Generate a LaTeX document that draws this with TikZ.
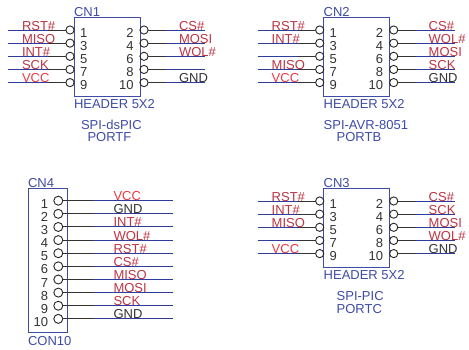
\documentclass[tikz,border=0pt]{standalone}
\usepackage{fontspec}
\setmainfont{Liberation Sans}
\definecolor{wireblue}{HTML}{2E3C9C}
\definecolor{capblue}{HTML}{3F4CA6}
\definecolor{sigred}{HTML}{BE3443}
\definecolor{vccred}{HTML}{F03A42}
\definecolor{gnddark}{HTML}{333333}
\tikzset{
  txt/.style={inner sep=0pt,outer sep=0pt,anchor=base west,font=\fontsize{13}{15}\selectfont},
  numl/.style={txt,text=gnddark},
  numr/.style={txt,anchor=base east,text=gnddark},
  captxt/.style={txt,text=capblue},
  sr/.style={txt,text=sigred},
  sv/.style={txt,text=vccred},
  sg/.style={txt,text=gnddark},
  hbox/.style={draw=capblue,line width=1pt,fill=white,inner sep=0pt,outer sep=0pt,anchor=north west},
  pinc/.style={circle,draw=black!85,line width=0.9pt,minimum size=8.2pt,inner sep=0pt,outer sep=0pt},
  wk/.style={draw=gnddark,line width=1pt},
  wb/.style={draw=wireblue,line width=1pt}
}
\newcommand{\hdrleft}[2]{%
  \foreach \pn/\pr/\pt/\ps in {#2} {
    \node[pinc] (#1p\pn) at (-4,{13+13.15*\pr}) {};
    \coordinate (#1m\pn) at (-26,{13+13.15*\pr});
    \coordinate (#1e\pn) at (-66,{13+13.15*\pr});
    \draw[wb] (#1e\pn) -- (#1m\pn);
    \draw[wk] (#1m\pn) -- (#1p\pn.west);
    \node[numl] (#1n\pn) at (6,{20+13.15*\pr}) {\pn};
    \ifx\pt\empty\else
      \node[\ps] (#1l\pn) at (-52,{13+13.15*\pr}) {\pt};
    \fi
  }}
\newcommand{\hdrright}[2]{%
  \foreach \pn/\pr/\pt/\ps in {#2} {
    \node[pinc] (#1p\pn) at (70,{13+13.15*\pr}) {};
    \coordinate (#1m\pn) at (92,{13+13.15*\pr});
    \coordinate (#1e\pn) at (131,{13+13.15*\pr});
    \draw[wb] (#1m\pn) -- (#1e\pn);
    \draw[wk] (#1p\pn.east) -- (#1m\pn);
    \node[numr] (#1n\pn) at (59.5,{20+13.15*\pr}) {\pn};
    \ifx\pt\empty\else
      \node[\ps] (#1l\pn) at (105,{13+13.15*\pr}) {\pt};
    \fi
  }}
\newcommand{\hdrbox}[2]{%
  \node[hbox,minimum width=66pt,minimum height=79pt] (#1box) at (0,0) {};
  \node[captxt] (#1name) at (0,-0.3) {#2};
  \node[captxt] (#1part) at (0,91.7) {HEADER 5X2};}
\begin{document}
\begin{tikzpicture}[x=1pt,y=-1pt]
\useasboundingbox (0,0) rectangle (469,349);
\fill[white] (0,0) rectangle (469,349);
% CN1
\begin{scope}[shift={(74,17)}]
\hdrbox{a}{CN1}
\hdrleft{a}{1/0/RST\#/sr,3/1/MISO/sr,5/2/INT\#/sr,7/3/SCK/sr,9/4/VCC/sv}
\hdrright{a}{2/0/CS\#/sr,4/1/MOSI/sr,6/2/WOL\#/sr,8/3//sr,10/4/GND/sg}
\node[captxt] (acap1) at (7,112) {SPI-dsPIC};
\node[captxt] (acap2) at (13.5,124.7) {PORTF};
\end{scope}
% CN2
\begin{scope}[shift={(323.7,17)}]
\hdrbox{b}{CN2}
\hdrleft{b}{1/0/RST\#/sr,3/1/INT\#/sr,5/2//sr,7/3/MISO/sr,9/4/VCC/sv}
\hdrright{b}{2/0/CS\#/sr,4/1/WOL\#/sr,6/2/MOSI/sr,8/3/SCK/sr,10/4/GND/sg}
\node[captxt] (bcap1) at (0,112) {SPI-AVR-8051};
\node[captxt] (bcap2) at (13,124.7) {PORTB};
\end{scope}
% CN3
\begin{scope}[shift={(323.7,188)}]
\hdrbox{c}{CN3}
\hdrleft{c}{1/0/RST\#/sr,3/1/INT\#/sr,5/2/MISO/sr,7/3//sr,9/4/VCC/sv}
\hdrright{c}{2/0/CS\#/sr,4/1/SCK/sr,6/2/MOSI/sr,8/3/WOL\#/sr,10/4/GND/sg}
\node[captxt] (ccap1) at (13,112) {SPI-PIC};
\node[captxt] (ccap2) at (13,125) {PORTC};
\end{scope}
% CN4
\begin{scope}[shift={(28,188)}]
\node[hbox,minimum width=39.5pt,minimum height=144.5pt] (dbox) at (0,0) {};
\node[captxt] (dname) at (0,-0.8) {CN4};
\node[captxt] (dpart) at (0,157.7) {CON10};
\foreach \pn/\pr/\pt/\ps in {1/0/VCC/sv,2/1/GND/sg,3/2/INT\#/sr,4/3/WOL\#/sr,5/4/RST\#/sr,6/5/CS\#/sr,7/6/MISO/sr,8/7/MOSI/sr,9/8/SCK/sr,10/9/GND/sg} {
  \node[pinc,minimum size=9pt] (dp\pn) at (30.3,{12.7+13.13*\pr}) {};
  \coordinate (dm\pn) at (65,{12.7+13.13*\pr});
  \coordinate (de\pn) at (144.5,{12.7+13.13*\pr});
  \draw[wb] (dm\pn) -- (de\pn);
  \draw[wk] (dp\pn.east) -- (dm\pn);
  \node[numr] (dn\pn) at (20,{20.3+13.13*\pr}) {\pn};
  \node[\ps] (dl\pn) at (85.5,{12.7+13.13*\pr}) {\pt};
}
\end{scope}
\end{tikzpicture}
\end{document}
